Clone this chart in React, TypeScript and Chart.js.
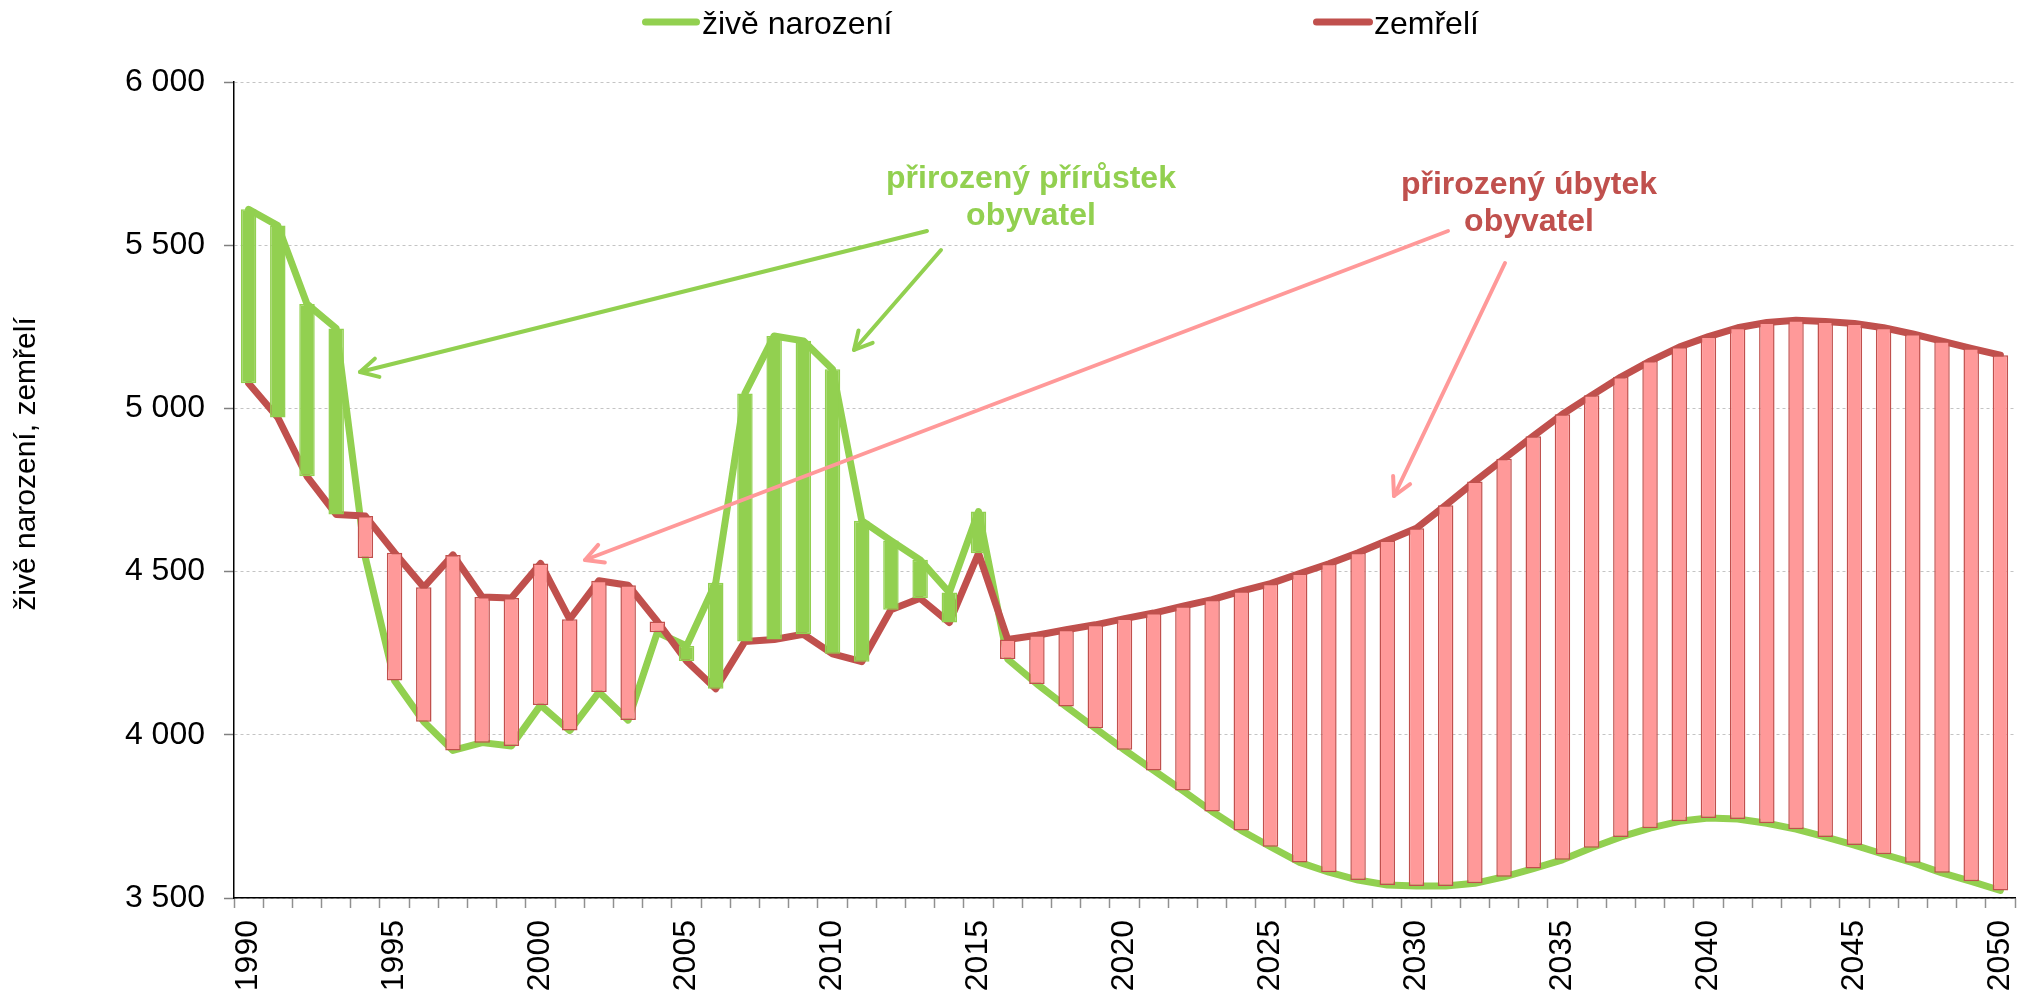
import React, { useEffect, useRef } from 'react';
import { Chart, registerables } from 'chart.js';

Chart.register(...registerables);

const years: string[] = [
  '1990', '1991', '1992', '1993', '1994', '1995', '1996', '1997', '1998', '1999',
  '2000', '2001', '2002', '2003', '2004', '2005', '2006', '2007', '2008', '2009',
  '2010', '2011', '2012', '2013', '2014', '2015', '2016', '2017', '2018', '2019',
  '2020', '2021', '2022', '2023', '2024', '2025', '2026', '2027', '2028', '2029',
  '2030', '2031', '2032', '2033', '2034', '2035', '2036', '2037', '2038', '2039',
  '2040', '2041', '2042', '2043', '2044', '2045', '2046', '2047', '2048', '2049',
  '2050',
];

// živě narození
const births: number[] = [
  5610, 5560, 5320, 5245, 4542, 4166, 4040, 3952, 3976, 3966,
  4091, 4013, 4131, 4045, 4314, 4272, 4466, 5046, 5222, 5207,
  5120, 4656, 4595, 4536, 4436, 4684, 4232, 4156, 4087, 4020,
  3954, 3891, 3829, 3765, 3707, 3657, 3609, 3579, 3555, 3540,
  3537, 3537, 3545, 3565, 3590, 3617, 3654, 3687, 3714, 3735,
  3745, 3742, 3729, 3711, 3687, 3662, 3634, 3608, 3577, 3551,
  3523,
];

// zemřelí
const deaths: number[] = [
  5077, 4972, 4792, 4675, 4670, 4558, 4452, 4551, 4422, 4419,
  4525, 4354, 4472, 4458, 4347, 4226, 4141, 4286, 4292, 4308,
  4248, 4224, 4383, 4418, 4344, 4556, 4292, 4305, 4322, 4337,
  4356, 4373, 4394, 4414, 4440, 4463, 4494, 4524, 4558, 4595,
  4633, 4703, 4776, 4846, 4915, 4982, 5040, 5096, 5145, 5188,
  5220, 5247, 5263, 5270, 5266, 5260, 5247, 5228, 5206, 5184,
  5163,
];

const yMin = 3500;
const yMax = 6000;
const yStep = 500;

const legendLabels = ['živě narození', 'zemřelí'];
const yTitle = 'živě narození, zemřelí';
const growthText = ['přirozený přírůstek', 'obyvatel'];
const declineText = ['přirozený úbytek', 'obyvatel'];

const GREEN = '#92D050';
const RED = '#C0504D';
const PINK = '#FF9999';
const FONT = '"Liberation Sans", Arial, Helvetica, sans-serif';

function drawArrow(ctx: CanvasRenderingContext2D, x1: number, y1: number, x2: number, y2: number, color: string) {
  ctx.save();
  ctx.strokeStyle = color;
  ctx.lineWidth = 4;
  ctx.lineCap = 'round';
  ctx.lineJoin = 'round';
  ctx.beginPath();
  ctx.moveTo(x1, y1);
  ctx.lineTo(x2, y2);
  ctx.stroke();
  const ang = Math.atan2(y1 - y2, x1 - x2);
  const len = 20;
  const spread = (28 * Math.PI) / 180;
  ctx.beginPath();
  ctx.moveTo(x2 + len * Math.cos(ang - spread), y2 + len * Math.sin(ang - spread));
  ctx.lineTo(x2, y2);
  ctx.lineTo(x2 + len * Math.cos(ang + spread), y2 + len * Math.sin(ang + spread));
  ctx.stroke();
  ctx.restore();
}

const overlayPlugin = {
  id: 'overlayPlugin',
  afterDraw(chart: any) {
    const ctx: CanvasRenderingContext2D = chart.ctx;
    ctx.save();
    // legend
    ctx.lineCap = 'round';
    ctx.lineWidth = 7;
    ctx.strokeStyle = GREEN;
    ctx.beginPath();
    ctx.moveTo(645.5, 22);
    ctx.lineTo(696.5, 22);
    ctx.stroke();
    ctx.strokeStyle = RED;
    ctx.beginPath();
    ctx.moveTo(1316.5, 22);
    ctx.lineTo(1369.5, 22);
    ctx.stroke();
    ctx.fillStyle = '#000';
    ctx.font = `32px ${FONT}`;
    ctx.textAlign = 'left';
    ctx.textBaseline = 'alphabetic';
    ctx.fillText(legendLabels[0], 702, 34);
    ctx.fillText(legendLabels[1], 1374, 34);

    // y-axis title
    ctx.save();
    ctx.font = `30px ${FONT}`;
    ctx.translate(27, 464);
    ctx.rotate(-Math.PI / 2);
    ctx.textAlign = 'center';
    ctx.textBaseline = 'middle';
    ctx.fillText(yTitle, 0, 0);
    ctx.restore();

    // annotations
    ctx.font = `bold 32px ${FONT}`;
    ctx.textAlign = 'center';
    ctx.fillStyle = GREEN;
    ctx.fillText(growthText[0], 1031, 188);
    ctx.fillText(growthText[1], 1031, 225);
    ctx.fillStyle = RED;
    ctx.fillText(declineText[0], 1529, 194);
    ctx.fillText(declineText[1], 1529, 231);

    drawArrow(ctx, 927, 231, 360, 372, GREEN);
    drawArrow(ctx, 941, 250, 854, 350, GREEN);
    drawArrow(ctx, 1448, 231, 585, 560, PINK);
    drawArrow(ctx, 1505, 263, 1394, 496, PINK);
    ctx.restore();
  },
};

function formatThousands(v: number): string {
  const s = String(Math.round(v));
  return s.length > 3 ? s.slice(0, s.length - 3) + ' ' + s.slice(s.length - 3) : s;
}

export default function App() {
  const canvasRef = useRef<HTMLCanvasElement | null>(null);

  useEffect(() => {
    if (!canvasRef.current) return;
    Chart.defaults.font.family = FONT;
    const barData = births.map((b, i) => [Math.min(b, deaths[i]), Math.max(b, deaths[i])]);
    const isGrowth = (i: number) => births[i] >= deaths[i];

    const chart = new Chart(canvasRef.current, {
      type: 'bar',
      data: {
        labels: years,
        datasets: [
          {
            type: 'bar',
            label: 'rozdíl',
            data: barData as any,
            backgroundColor: (c: any) => (isGrowth(c.dataIndex) ? GREEN : PINK),
            borderColor: (c: any) => (isGrowth(c.dataIndex) ? GREEN : RED),
            borderWidth: 1.5,
            borderSkipped: false,
            barPercentage: 0.53,
            categoryPercentage: 1,
            order: 0,
          } as any,
          {
            type: 'line',
            label: legendLabels[1],
            data: deaths,
            borderColor: RED,
            backgroundColor: RED,
            borderWidth: 7,
            pointRadius: 0,
            tension: 0,
            borderJoinStyle: 'round',
            borderCapStyle: 'round',
            order: 1,
          } as any,
          {
            type: 'line',
            label: legendLabels[0],
            data: births,
            borderColor: GREEN,
            backgroundColor: GREEN,
            borderWidth: 7,
            pointRadius: 0,
            tension: 0,
            borderJoinStyle: 'round',
            borderCapStyle: 'round',
            order: 2,
          } as any,
        ],
      },
      options: {
        responsive: false,
        animation: false,
        layout: { padding: { top: 82, right: 14, left: 0, bottom: 0 } },
        plugins: {
          legend: { display: false },
          tooltip: { enabled: false },
          title: { display: false },
        },
        scales: {
          x: {
            offset: true,
            ticks: {
              autoSkip: false,
              minRotation: 90,
              maxRotation: 90,
              color: '#000',
              font: { size: 32 },
              padding: 12,
              callback: (_v: any, i: number) => (Number(years[i]) % 5 === 0 ? years[i] : ''),
            },
            grid: {
              offset: true,
              drawOnChartArea: false,
              drawTicks: true,
              tickLength: 10,
              tickColor: '#909090',
              tickWidth: 1.5,
            },
            border: { display: true, color: '#000', width: 1.5 },
            afterFit: (s: any) => {
              s.height = 93;
              s.paddingRight = 0;
              s.paddingLeft = 0;
            },
          },
          y: {
            min: yMin,
            max: yMax,
            ticks: {
              stepSize: yStep,
              color: '#000',
              font: { size: 32 },
              padding: 19,
              callback: (v: any) => formatThousands(Number(v)),
            },
            grid: {
              color: '#c4c4c4',
              lineWidth: 1,
              tickColor: '#808080',
              tickLength: 10,
              tickWidth: 1.5,
            },
            border: { display: true, color: '#000', width: 1.5, dash: [3, 3] },
            afterFit: (s: any) => {
              s.width = 234;
              s.paddingTop = 0;
              s.paddingBottom = 0;
            },
          },
        },
      } as any,
      plugins: [overlayPlugin],
    });
    return () => chart.destroy();
  }, []);

  return (
    <div style={{ position: 'absolute', left: 0, top: 0, width: 2029, height: 991, background: '#fff' }}>
      <canvas ref={canvasRef} width={2029} height={991} style={{ display: 'block' }} />
    </div>
  );
}
